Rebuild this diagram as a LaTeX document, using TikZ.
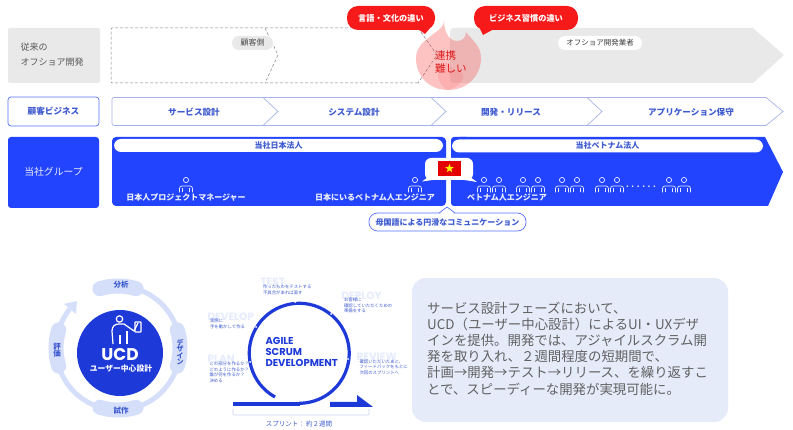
\documentclass[tikz,border=0pt]{standalone}
\usepackage{fontspec}
\setmainfont{Noto Sans CJK JP}
\newfontfamily\latinbold{Poppins}
\usetikzlibrary{shapes.geometric}
\definecolor{mainblue}{HTML}{2244FF}
\definecolor{textblue}{HTML}{3F5BD0}
\definecolor{paleblue}{HTML}{D5DFFA}
\definecolor{panelblue}{HTML}{E6EBFA}
\definecolor{lineblue}{HTML}{A9B4E6}
\definecolor{softgray}{HTML}{E9E9E9}
\definecolor{alertred}{HTML}{F71A1A}
\newcommand{\fz}[1]{\fontsize{#1}{#1}\selectfont}
\tikzset{
    pics/person/.style={code={
        \draw [personline] (0,0) circle (2.6pt);
        \draw [personline, rounded corners=2.5pt] (-6.5,12.5) -- (-6.5,6) -- (6.5,6) -- (6.5,12.5);
        \draw [personline] (-3.5,12.5) -- (-3.5,8.5) (3.5,12.5) -- (3.5,8.5);
    }},
    personline/.style={draw=white!88!mainblue, line width=.7pt},
    pill/.style={rounded corners=7pt, minimum height=14pt, inner sep=0pt, text height=7pt, text depth=1pt},
    redpill/.style={fill=alertred, rounded corners=11pt, minimum height=24pt, inner sep=0pt, text=white, font=\fz{8.2}\bfseries},
    stagetext/.style={text=textblue, font=\fz{8.6}\bfseries},
    whitetext/.style={text=white!92!mainblue, font=\fz{8}\bfseries},
    phase/.style={text=paleblue!60!white, font=\latinbold\fz{10.5}\bfseries, anchor=west},
    smalltext/.style={text=textblue, font=\fz{4.4}, anchor=west},
    ringtext/.style={text=textblue, font=\fz{7.5}\bfseries},
}
\begin{document}
\begin{tikzpicture}[x=1pt, y=-1pt]
    \useasboundingbox (0,0) rectangle (793,430);
    \fill [white] (0,0) rectangle (793,430);

    % top row
    \fill [softgray, rounded corners=2pt] (8,28) rectangle (100,83);
    \node [align=left, anchor=west, text=black!65, font=\fz{9}] (oldlabel) at (17,55) {従来の\\[6pt]オフショア開発};
    \draw [densely dashed, black!50, line width=.5pt, rounded corners=1pt] (418,28) -- (111,28) -- (111,83) -- (418,83);
    \draw [densely dashed, black!50, line width=.5pt] (418,28) -- (437,55) -- (418,83) (265,28) -- (278,55) -- (265,83);
    \fill [softgray, rounded corners=4pt] (450,28) rectangle (470,83);
    \fill [softgray] (460,28) -- (753,28) -- (784,55) -- (753,83) -- (460,83) -- cycle;
    \node [pill, fill=softgray, minimum width=41pt, text=black!70, font=\fz{8}] (clientpill) at (252.5,43) {顧客側};
    \node [pill, fill=white, minimum width=84pt, text=black!75, font=\fz{7.5}] (vendorpill) at (600,43) {オフショア開発業者};

    \fill [alertred!80!white, opacity=.33] (444,20) .. controls (446,32) and (416,38) .. (416,58) .. controls (416,78) and (431,90) .. (448,90) .. controls (467,90) and (481,76) .. (481,58) .. controls (481,46) and (472,40) .. (466,32) .. controls (466,38) and (462,41) .. (457,41) .. controls (449,41) and (444,32) .. (444,20) -- cycle;
    \fill [alertred!80!white, opacity=.14] (448,90) .. controls (436,84) and (434,70) .. (446,62) .. controls (452,66) and (452,72) .. (458,70) .. controls (466,74) and (466,84) .. (448,90) -- cycle;
    \node [align=left, anchor=west, text=alertred!90!black, font=\fz{10.5}] (hardlabel) at (431.5,62) {連携\\[3pt]難しい};
    \node [redpill, minimum width=88pt] (langpill) at (391,18) {言語・文化の違い};
    \node [redpill, minimum width=104pt] (custompill) at (526,18) {ビジネス習慣の違い};
    \fill [alertred] (418,29) -- (425,34) -- (430,28) -- cycle;
    \fill [alertred] (480,29) -- (483,35) -- (494,29) -- cycle;

    % stage row
    \node [draw=mainblue!75, line width=.7pt, rounded corners=3pt, minimum width=91pt, minimum height=29pt, inner sep=0pt, stagetext] (bizbox) at (53.5,111.5) {顧客ビジネス};
    \draw [lineblue, line width=.7pt, rounded corners=2pt] (766,97.5) -- (112,97.5) -- (112,125.5) -- (766,125.5);
    \draw [lineblue, line width=.7pt] (766,97.5) -- (783,111.5) -- (766,125.5);
    \foreach \x in {263,431,587}{
        \draw [lineblue, line width=.7pt] (\x,97.5) -- (\x+15,111.5) -- (\x,125.5);
    }
    \node [stagetext] (stagea) at (194,112.5) {サービス設計};
    \node [stagetext] (stageb) at (354,112) {システム設計};
    \node [stagetext] (stagec) at (511,112) {開発・リリース};
    \node [stagetext] (staged) at (691,112) {アプリケーション保守};

    % group row
    \fill [mainblue, rounded corners=3pt] (8,137) rectangle (99,208);
    \node [text=white!92!mainblue, font=\fz{9.8}] (grouplabel) at (53.5,172) {当社グループ};
    \fill [mainblue, rounded corners=4pt] (112,137) rectangle (446,206);
    \fill [mainblue, rounded corners=3pt] (451,137) rectangle (470,206);
    \fill [mainblue] (460,137) -- (765,137) -- (783,172) -- (768,206) -- (460,206) -- cycle;
    \node [pill, fill=white, minimum width=329pt, minimum height=13pt, text=textblue, font=\fz{8}\bfseries] (japanpill) at (278.5,145.5) {当社日本法人};
    \node [pill, fill=white, minimum width=311pt, minimum height=13pt, text=textblue, font=\fz{8}\bfseries] (vietnampill) at (607.5,146) {当社ベトナム法人};

    \pic at (186,180) {person};
    \pic at (415,180) {person};
    \foreach \x in {484,499,523,538,562,577,602,617,669,684}{
        \pic at (\x,180) {person};
    }
    \node [whitetext] (pmlabel) at (186,197.5) {日本人プロジェクトマネージャー};
    \node [whitetext] (bridgelabel) at (375,197.5) {日本にいるベトナム人エンジニア};
    \node [whitetext] (englabel) at (507,197.5) {ベトナム人エンジニア};
    \node [text=white!88!mainblue, font=\fz{8}\bfseries] (morelabel) at (641,187) {.\kern2.6pt.\kern2.6pt.\kern2.6pt.\kern2.6pt.\kern2.6pt.};

    \fill [white, rounded corners=6pt] (425,158) rectangle (473,180);
    \fill [white] (432,174) -- (422,181.5) -- (440,179) -- cycle (466,174) -- (477,182) -- (458,179) -- cycle;
    \fill [red!90!black] (438,161) rectangle (461,176);
    \node [star, star points=5, star point ratio=2.4, fill=yellow, minimum size=9pt, inner sep=0pt] (flagstar) at (449.5,168.5) {};

    \draw [mainblue!75, line width=.7pt] (439,213) -- (447,207) -- (455,213);
    \node [draw=mainblue!75, fill=white, line width=.7pt, rounded corners=8.5pt, minimum width=157pt, minimum height=18pt, inner sep=0pt, text=textblue, font=\fz{8}\bfseries] (talkpill) at (447.5,222) {母国語による円滑なコミュニケーション};
    \fill [white] (440,213.5) -- (447,208.5) -- (454,213.5) -- (454,213.9) -- (440,213.9) -- cycle;

    % ucd
    \coordinate (ringc) at (118,348);
    \draw [paleblue, line width=5pt] (ringc) ++(100:62pt) arc [start angle=100, end angle=-219, radius=62pt];
    \fill [paleblue] (77,301) -- (64,304) -- (76,314) -- cycle;
    \foreach \a in {90,0,-90,180}{
        \draw [paleblue, line width=15pt, line cap=round] (ringc) ++(\a+17:62pt) arc [start angle=\a+17, end angle=\a-17, radius=62pt];
    }
    \node [ringtext] (ucda) at (121,285) {分析};
    \node [ringtext, align=center, font=\fz{7}\bfseries] (ucdb) at (180,352) {デ\\[-.6pt]ザ\\[-.6pt]イ\\[-.6pt]ン};
    \node [ringtext] (ucdc) at (121,411) {試作};
    \node [ringtext, align=center] (ucdd) at (57,350) {評\\[-.3pt]価};
    \fill [mainblue!85!black] (120,353) circle (43pt);
    \draw [white, line width=1.2pt] (119.5,319) circle (3.2pt);
    \draw [white, line width=1.2pt, line join=round] (113,344) -- (112,331) .. controls (112,326) and (115,324) .. (119,324) -- (124,324) -- (134,331) -- (138,323);
    \draw [white, line width=1.2pt] (127,344) -- (127,331) (120,344) -- (120,335);
    \draw [white, line width=1.2pt, rounded corners=.5pt] (135,322) rectangle (141,332);
    \node [text=white, font=\latinbold\fz{17}\bfseries] (ucdmark) at (120,355) {UCD};
    \node [text=white, font=\fz{7.8}\bfseries] (ucdname) at (121,369) {ユーザー中心設計};

    % agile
    \draw [mainblue!85!black, line width=3.2pt] (275,397) arc [start angle=241, end angle=-90, radius=50pt];
    \draw [mainblue!85!black, line width=4pt] (233,404) -- (300,404);
    \fill [mainblue!85!black] (330,402) -- (357,402) -- (357,395) -- (373,407) -- (330,407) -- cycle;
    \foreach \x/\y in {295/302,331/314,348/359,256/327,250/362}{
        \fill [white] (\x,\y) circle (1pt);
    }
    \node [phase] (testlabel) at (257,282) {TEST};
    \node [phase] (devlabel) at (204,317) {DEVELOP};
    \node [phase] (planlabel) at (204,359) {PLAN};
    \node [phase] (deploylabel) at (338,296) {DEPLOY};
    \node [phase] (reviewlabel) at (353,357) {REVIEW};
    \node [smalltext, align=left] (testtext) at (259.5,290) {作ったものをテストする\\[1.2pt]不具合があれば直す};
    \node [smalltext, align=left] (devtext) at (206.5,324) {実際に\\[1.2pt]手を動かして作る};
    \node [smalltext, align=left] (plantext) at (206,372.5) {どの部分を作るか？\\[1.2pt]どのように作るか？\\[1.2pt]誰が何を作るか？\\[1.2pt]決める};
    \node [smalltext, align=left] (deploytext) at (340.5,305.5) {お客様に\\[1.2pt]確認していただくための\\[1.2pt]準備をする};
    \node [smalltext, align=left] (reviewtext) at (356,367) {確認いただいたあと、\\[1.2pt]フィードバックをもとに\\[1.2pt]次回のスプリントへ};
    \node [anchor=west, align=left, text=mainblue!85!black, font=\latinbold\fz{10}\bfseries] (agilelabel) at (262,352) {AGILE\\[1pt]SCRUM\\[1pt]DEVELOPMENT};
    \draw [lineblue!60!white, line width=.7pt, rounded corners=1pt] (233,409) -- (233,415) -- (369,415) -- (369,409);
    \node [text=textblue, font=\fz{6.5}] (sprintlabel) at (299,424) {スプリント： 約２週間};

    % note
    \fill [panelblue, rounded corners=14pt] (412,278) rectangle (728,422);
    \node [anchor=north west, align=left, inner sep=0pt, text=black!62, font=\fontsize{13.4}{16.2}\selectfont] (notetext) at (427,301.5) {サービス設計フェーズにおいて、\\UCD（ユーザー中心設計）によるUI・UXデザ\\インを提供。開発では、アジャイルスクラム開\\発を取り入れ、２週間程度の短期間で、\\計画→開発→テスト→リリース、を繰り返すこ\\とで、スピーディーな開発が実現可能に。};
\end{tikzpicture}
\end{document}
